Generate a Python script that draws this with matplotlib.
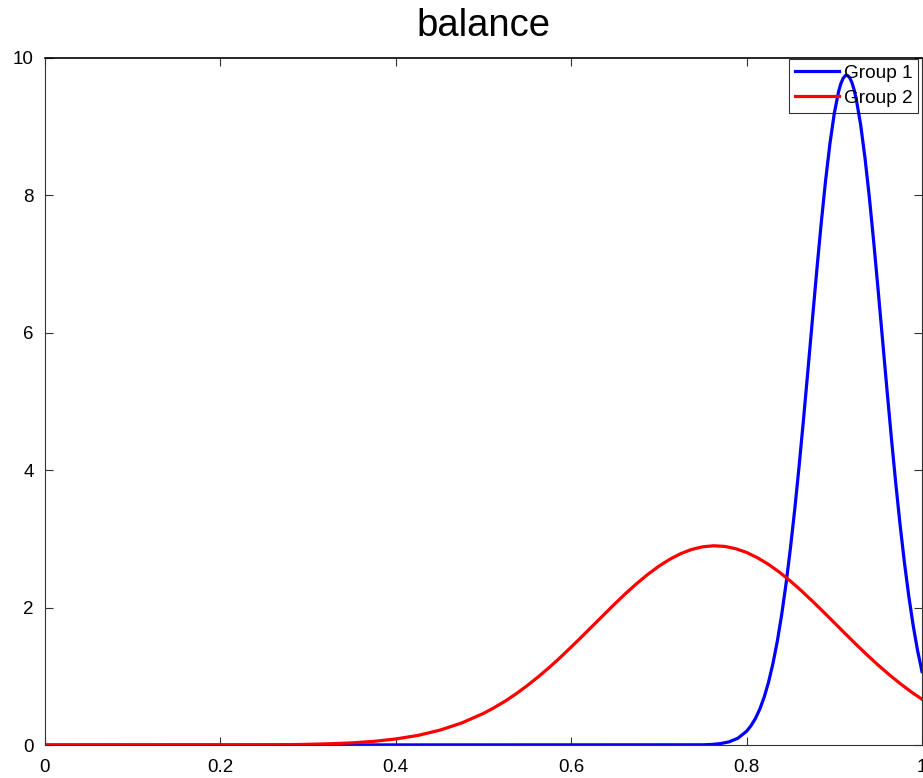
import numpy as np
import matplotlib
matplotlib.use("Agg")
import matplotlib.pyplot as plt

plt.rcParams["font.family"] = ["Liberation Sans", "DejaVu Sans"]

# group 1 density, sampled along x
x_g1 = [0.0, 0.75, 0.76, 0.77, 0.78, 0.79, 0.80, 0.805, 0.81, 0.815, 0.82, 0.825,
        0.83, 0.835, 0.84, 0.845, 0.85, 0.855, 0.86, 0.865, 0.87, 0.875, 0.88,
        0.885, 0.89, 0.895, 0.90, 0.905, 0.9075, 0.91, 0.9125, 0.915, 0.9175,
        0.92, 0.9225, 0.925, 0.93, 0.935, 0.94, 0.945, 0.95, 0.955, 0.96, 0.965,
        0.97, 0.975, 0.98, 0.985, 0.99, 0.995, 1.0]
y_g1 = [0.0, 0.003, 0.008, 0.020, 0.046, 0.098, 0.200, 0.280, 0.385, 0.521, 0.695,
        0.913, 1.184, 1.509, 1.897, 2.350, 2.867, 3.443, 4.077, 4.755, 5.465,
        6.186, 6.905, 7.585, 8.209, 8.752, 9.195, 9.517, 9.628, 9.703, 9.743,
        9.747, 9.714, 9.646, 9.542, 9.404, 9.032, 8.546, 7.967, 7.315, 6.618,
        5.900, 5.180, 4.481, 3.819, 3.207, 2.652, 2.161, 1.735, 1.372, 1.069]

# group 2 density
x_g2 = [0.0, 0.25, 0.275, 0.30, 0.325, 0.35, 0.375, 0.40, 0.425, 0.45, 0.475, 0.50,
        0.5125, 0.525, 0.5375, 0.55, 0.5625, 0.575, 0.5875, 0.60, 0.6125, 0.625,
        0.6375, 0.65, 0.6625, 0.675, 0.6875, 0.70, 0.7125, 0.725, 0.7375, 0.75,
        0.7625, 0.775, 0.7875, 0.80, 0.8125, 0.825, 0.8375, 0.85, 0.8625, 0.875,
        0.8875, 0.90, 0.9125, 0.925, 0.9375, 0.95, 0.9625, 0.975, 0.9875, 1.0]
y_g2 = [0.0, 0.001, 0.004, 0.010, 0.018, 0.031, 0.053, 0.088, 0.139, 0.215, 0.320,
        0.460, 0.546, 0.641, 0.748, 0.866, 0.993, 1.129, 1.274, 1.426, 1.582,
        1.741, 1.900, 2.058, 2.210, 2.353, 2.485, 2.603, 2.704, 2.786, 2.847,
        2.885, 2.900, 2.891, 2.858, 2.803, 2.725, 2.629, 2.515, 2.386, 2.245,
        2.094, 1.939, 1.780, 1.620, 1.463, 1.310, 1.163, 1.025, 0.895, 0.775,
        0.666]

xticks = [0, 0.2, 0.4, 0.6, 0.8, 1]
xticklabels = ["0", "0.2", "0.4", "0.6", "0.8", "1"]
yticks = [0, 2, 4, 6, 8, 10]

fig = plt.figure(figsize=(9.23, 7.78), dpi=100)
ax = fig.add_axes([45 / 923, 33 / 778, 877 / 923, 687 / 778])

ax.plot(x_g1, y_g1, color="#0000ff", lw=2.3, label="Group 1")
ax.plot(x_g2, y_g2, color="#ff0000", lw=2.3, label="Group 2")

ax.set_xlim(0, 1)
ax.set_ylim(0, 10)
ax.set_xticks(xticks)
ax.set_xticklabels(xticklabels)
ax.set_yticks(yticks)
ax.tick_params(direction="in", length=6, width=0.8, colors="#333333",
               labelcolor="black", labelsize=13.5, top=True, right=True)
ax.tick_params(axis="x", pad=10)
ax.tick_params(axis="y", pad=8)
for sp in ax.spines.values():
    sp.set_color("#333333")
    sp.set_linewidth(0.8)
ax.spines["top"].set_color("black")
ax.spines["top"].set_linewidth(1.2)

ax.set_title("balance", fontsize=27.5, pad=16)

leg = ax.legend(loc="upper right", bbox_to_anchor=(1 - 4 / 877, 1 - 1 / 687),
                fontsize=13.7, frameon=True, fancybox=False, borderaxespad=0,
                handlelength=2.3, handletextpad=0.25, borderpad=0.3,
                labelspacing=0.4)
leg.get_frame().set_edgecolor("black")
leg.get_frame().set_linewidth(0.8)
leg.get_frame().set_facecolor("none")

fig.savefig("out.png", dpi=100)
